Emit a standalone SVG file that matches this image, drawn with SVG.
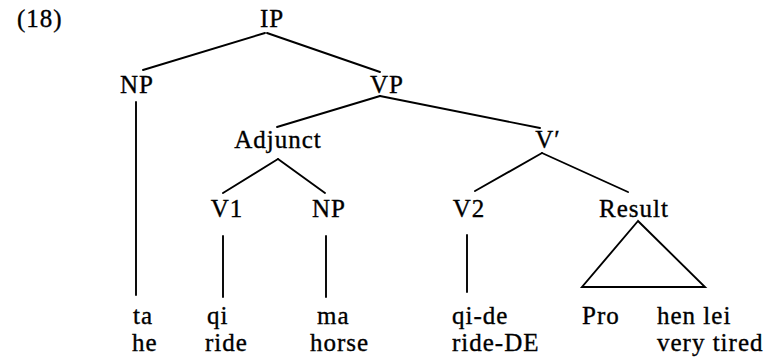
<svg xmlns="http://www.w3.org/2000/svg" width="784" height="357" viewBox="0 0 784 357">
<style>
text{font-family:"Liberation Serif","Times New Roman",serif;font-size:25px;fill:#000;stroke:#000;stroke-width:0.35;letter-spacing:1px}
.c{text-anchor:middle}
#edges line,#edges polygon{stroke:#000;stroke-width:1.9;fill:none;stroke-linecap:round}
</style>
<rect width="784" height="357" fill="#fff"/>
<text id="label" x="17" y="27">(18)</text>
<g id="edges">
<line x1="265" y1="33" x2="143" y2="70"/>
<line x1="267" y1="33" x2="380" y2="72"/>
<line x1="136" y1="102" x2="136" y2="295"/>
<line x1="380" y1="96" x2="277" y2="127"/>
<line x1="380" y1="96" x2="540" y2="128"/>
<line x1="278" y1="159" x2="223" y2="193"/>
<line x1="278" y1="159" x2="325" y2="193"/>
<line x1="542" y1="153" x2="475" y2="191"/>
<line x1="542" y1="153" x2="628" y2="192"/>
<line x1="223" y1="236" x2="223" y2="297"/>
<line x1="326" y1="236" x2="326" y2="297"/>
<line x1="467" y1="235" x2="467" y2="292"/>
<polygon points="638,221 582,287 705,287"/>
</g>
<g id="n-IP"><text class="c" x="272" y="27">IP</text></g>
<g id="n-NP1"><text class="c" x="137" y="93">NP</text></g>
<g id="n-VP"><text class="c" x="387" y="93">VP</text></g>
<g id="n-Adjunct"><text class="c" x="278" y="148">Adjunct</text></g>
<g id="n-Vbar"><text class="c" x="548" y="148">V′</text></g>
<g id="n-V1"><text class="c" x="227" y="217">V1</text></g>
<g id="n-NP2"><text class="c" x="329" y="217">NP</text></g>
<g id="n-V2"><text class="c" x="469" y="217">V2</text></g>
<g id="n-Result"><text class="c" x="634" y="217">Result</text></g>
<g id="leaf-ta"><text x="133" y="324">ta</text><text x="132" y="351">he</text></g>
<g id="leaf-qi"><text x="207" y="324">qi</text><text x="205" y="351">ride</text></g>
<g id="leaf-ma"><text x="317" y="324">ma</text><text x="310" y="351">horse</text></g>
<g id="leaf-qide"><text x="452" y="324">qi-de</text><text x="452" y="351">ride-DE</text></g>
<g id="leaf-Pro"><text x="582" y="324">Pro</text></g>
<g id="leaf-henlei"><text x="657" y="324">hen lei</text><text x="657" y="351">very tired</text></g>
</svg>
